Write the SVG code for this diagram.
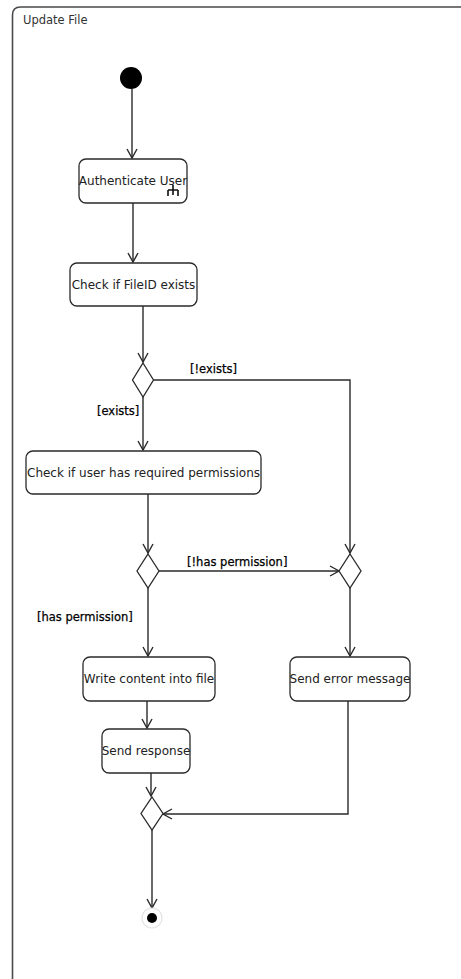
<svg xmlns="http://www.w3.org/2000/svg" width="461" height="979" viewBox="0 0 461 979">
  <style>
    .frame { fill: #fff; stroke: #4a4a4a; stroke-width: 1.6; }
    .title { font-family: "DejaVu Sans", "Liberation Sans", sans-serif; font-size: 11.5px; fill: #333; }
    .action rect { fill: #fff; stroke: #2a2a2a; stroke-width: 1.3; }
    .action text { font-family: "DejaVu Sans", "Liberation Sans", sans-serif; font-size: 12px; fill: #222; text-anchor: middle; }
    .decision polygon { fill: #fff; stroke: #2a2a2a; stroke-width: 1.3; }
    .edge { fill: none; stroke: #2a2a2a; stroke-width: 1.4; }
    .guard { font-family: "DejaVu Sans", "Liberation Sans", sans-serif; font-size: 11.5px; fill: #000; stroke: #000; stroke-width: 0.25; }
  </style>
  <defs>
    <marker id="open" markerUnits="userSpaceOnUse" markerWidth="12" markerHeight="12" viewBox="0 0 12 12" refX="10" refY="6" orient="auto">
      <path d="M1,1 L10,6 L1,11" fill="none" stroke="#2a2a2a" stroke-width="1.4"/>
    </marker>
  </defs>

  <!-- activity frame -->
  <g id="frame">
    <path class="frame" d="M12.5,990 L12.5,15 Q12.5,7 20.5,7 L470,7"/>
    <text class="title" x="23" y="24">Update File</text>
  </g>

  <!-- control flow -->
  <g id="connectors">
    <path class="edge" d="M132,89 L132,158" marker-end="url(#open)"/>
    <path class="edge" d="M133,203 L133,262" marker-end="url(#open)"/>
    <path class="edge" d="M143,306 L143,362" marker-end="url(#open)"/>
    <path class="edge" d="M153.5,380 L350,380 L350,553" marker-end="url(#open)"/>
    <path class="edge" d="M143,397 L143,450" marker-end="url(#open)"/>
    <path class="edge" d="M148,494 L148,553" marker-end="url(#open)"/>
    <path class="edge" d="M159,571 L339,571" marker-end="url(#open)"/>
    <path class="edge" d="M148,588 L148,656" marker-end="url(#open)"/>
    <path class="edge" d="M350,588 L350,656" marker-end="url(#open)"/>
    <path class="edge" d="M147,701 L147,728" marker-end="url(#open)"/>
    <path class="edge" d="M151,773 L151,796" marker-end="url(#open)"/>
    <path class="edge" d="M348,701 L348,814 L163,814" marker-end="url(#open)"/>
    <path class="edge" d="M152,830 L152,908" marker-end="url(#open)"/>
    <text class="guard" x="190" y="373">[!exists]</text>
    <text class="guard" x="97" y="415">[exists]</text>
    <text class="guard" x="187" y="566">[!has permission]</text>
    <text class="guard" x="37" y="621">[has permission]</text>
  </g>

  <g id="start">
    <circle cx="131" cy="78" r="11" fill="#000"/>
  </g>

  <g id="authenticate" class="action">
    <rect x="79" y="159" width="108" height="44" rx="7"/>
    <text x="133" y="185">Authenticate User</text>
    <!-- call-behaviour rake -->
    <path d="M173,185 L173,195 M168,190 L178,190 M168,190 L168,196 M178,190 L178,196" fill="none" stroke="#111" stroke-width="1.6"/>
  </g>

  <g id="checkFile" class="action">
    <rect x="70" y="263" width="127" height="43" rx="7"/>
    <text x="133.5" y="289">Check if FileID exists</text>
  </g>

  <g id="existsDecision" class="decision">
    <polygon points="143,363 153.5,380 143,397 132.5,380"/>
  </g>

  <g id="checkPermissions" class="action">
    <rect x="26" y="451" width="235" height="43" rx="7"/>
    <text x="143.5" y="477">Check if user has required permissions</text>
  </g>

  <g id="permissionDecision" class="decision">
    <polygon points="148,554 159,571 148,588 137,571"/>
  </g>

  <g id="errorMerge" class="decision">
    <polygon points="350,554 361,571 350,588 339,571"/>
  </g>

  <g id="writeContent" class="action">
    <rect x="83" y="657" width="132" height="44" rx="7"/>
    <text x="149" y="683">Write content into file</text>
  </g>

  <g id="sendError" class="action">
    <rect x="290" y="657" width="120" height="44" rx="7"/>
    <text x="350" y="683">Send error message</text>
  </g>

  <g id="sendResponse" class="action">
    <rect x="102" y="729" width="88" height="44" rx="7"/>
    <text x="146" y="755">Send response</text>
  </g>

  <g id="finalMerge" class="decision">
    <polygon points="152,797 163,813.5 152,830 141,813.5"/>
  </g>

  <g id="end">
    <circle cx="152" cy="918" r="10" fill="#fff" stroke="#e2e2e2" stroke-width="1.2"/>
    <circle cx="152" cy="918" r="5" fill="#000"/>
  </g>
</svg>
